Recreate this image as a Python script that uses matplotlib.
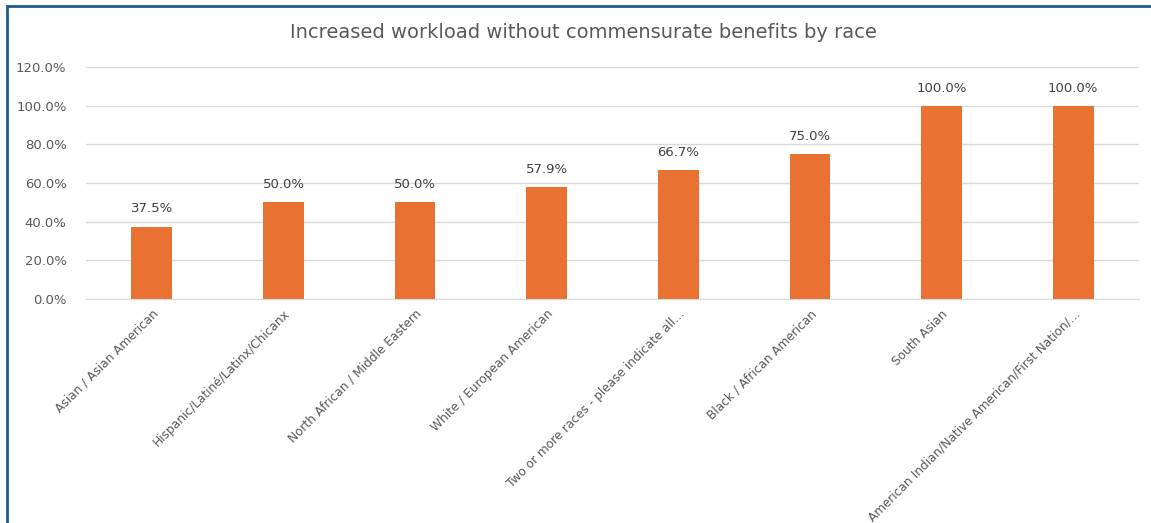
import matplotlib.pyplot as plt
import matplotlib.transforms as mtransforms
from matplotlib.patches import Rectangle
from matplotlib.ticker import FuncFormatter

# share of respondents reporting increased workload, by race
races = [
    "Asian / Asian American",
    "Hispanic/Latiné/Latinx/Chicanx",
    "North African / Middle Eastern",
    "White / European American",
    "Two or more races - please indicate all…",
    "Black / African American",
    "South Asian",
    "American Indian/Native American/First Nation/…",
]
pct = [37.5, 50.0, 50.0, 57.9, 66.7, 75.0, 100.0, 100.0]
yticks = [0, 20, 40, 60, 80, 100, 120]

bar_color = "#E97132"
text_color = "#595959"
grid_color = "#D9D9D9"

fig = plt.figure(figsize=(11.51, 5.23), dpi=100)
ax = fig.add_axes([86 / 1151, 1 - 299 / 523, (1139 - 86) / 1151, (299 - 67) / 523])

x = range(len(races))
bars = ax.bar(x, pct, width=0.31, color=bar_color, zorder=3)

for b, v in zip(bars, pct):
    ax.annotate(f"{v:.1f}%", (b.get_x() + b.get_width() / 2, v),
                xytext=(0, 8), textcoords="offset points",
                ha="center", va="bottom", fontsize=9.5, color="#404040")

ax.set_xlim(-0.5, len(races) - 0.5)
ax.set_ylim(0, 120)
ax.set_yticks(yticks)
ax.yaxis.set_major_formatter(FuncFormatter(lambda v, _: f"{v:.1f}%"))
ax.grid(axis="y", color=grid_color, linewidth=1, zorder=0)

ax.set_xticks(list(x))
ax.set_xticklabels(races, rotation=45, ha="right", rotation_mode="anchor",
                   fontsize=8.7, color=text_color)
# nudge the slanted labels so they end right under the bars
shift = mtransforms.ScaledTranslation(-6 / 100, 0, fig.dpi_scale_trans)
for lbl in ax.get_xticklabels():
    lbl.set_transform(lbl.get_transform() + shift)
ax.tick_params(axis="y", length=0, labelsize=9.5, labelcolor=text_color, pad=14)
ax.tick_params(axis="x", length=0, pad=6)

for side in ["top", "right", "left"]:
    ax.spines[side].set_visible(False)
ax.spines["bottom"].set_color(grid_color)
ax.spines["bottom"].set_zorder(4)

fig.text(583 / 1151, 1 - 32 / 523, "Increased workload without commensurate benefits by race",
         ha="center", va="center", fontsize=14, color=text_color)

# chart frame
fig.patches.append(Rectangle((7 / 1151, -0.1), 1.2, 1 - 6 / 523 + 0.1,
                             transform=fig.transFigure, fill=False,
                             edgecolor="#1F5C8B", linewidth=2))

fig.savefig("out.png", dpi=100)
